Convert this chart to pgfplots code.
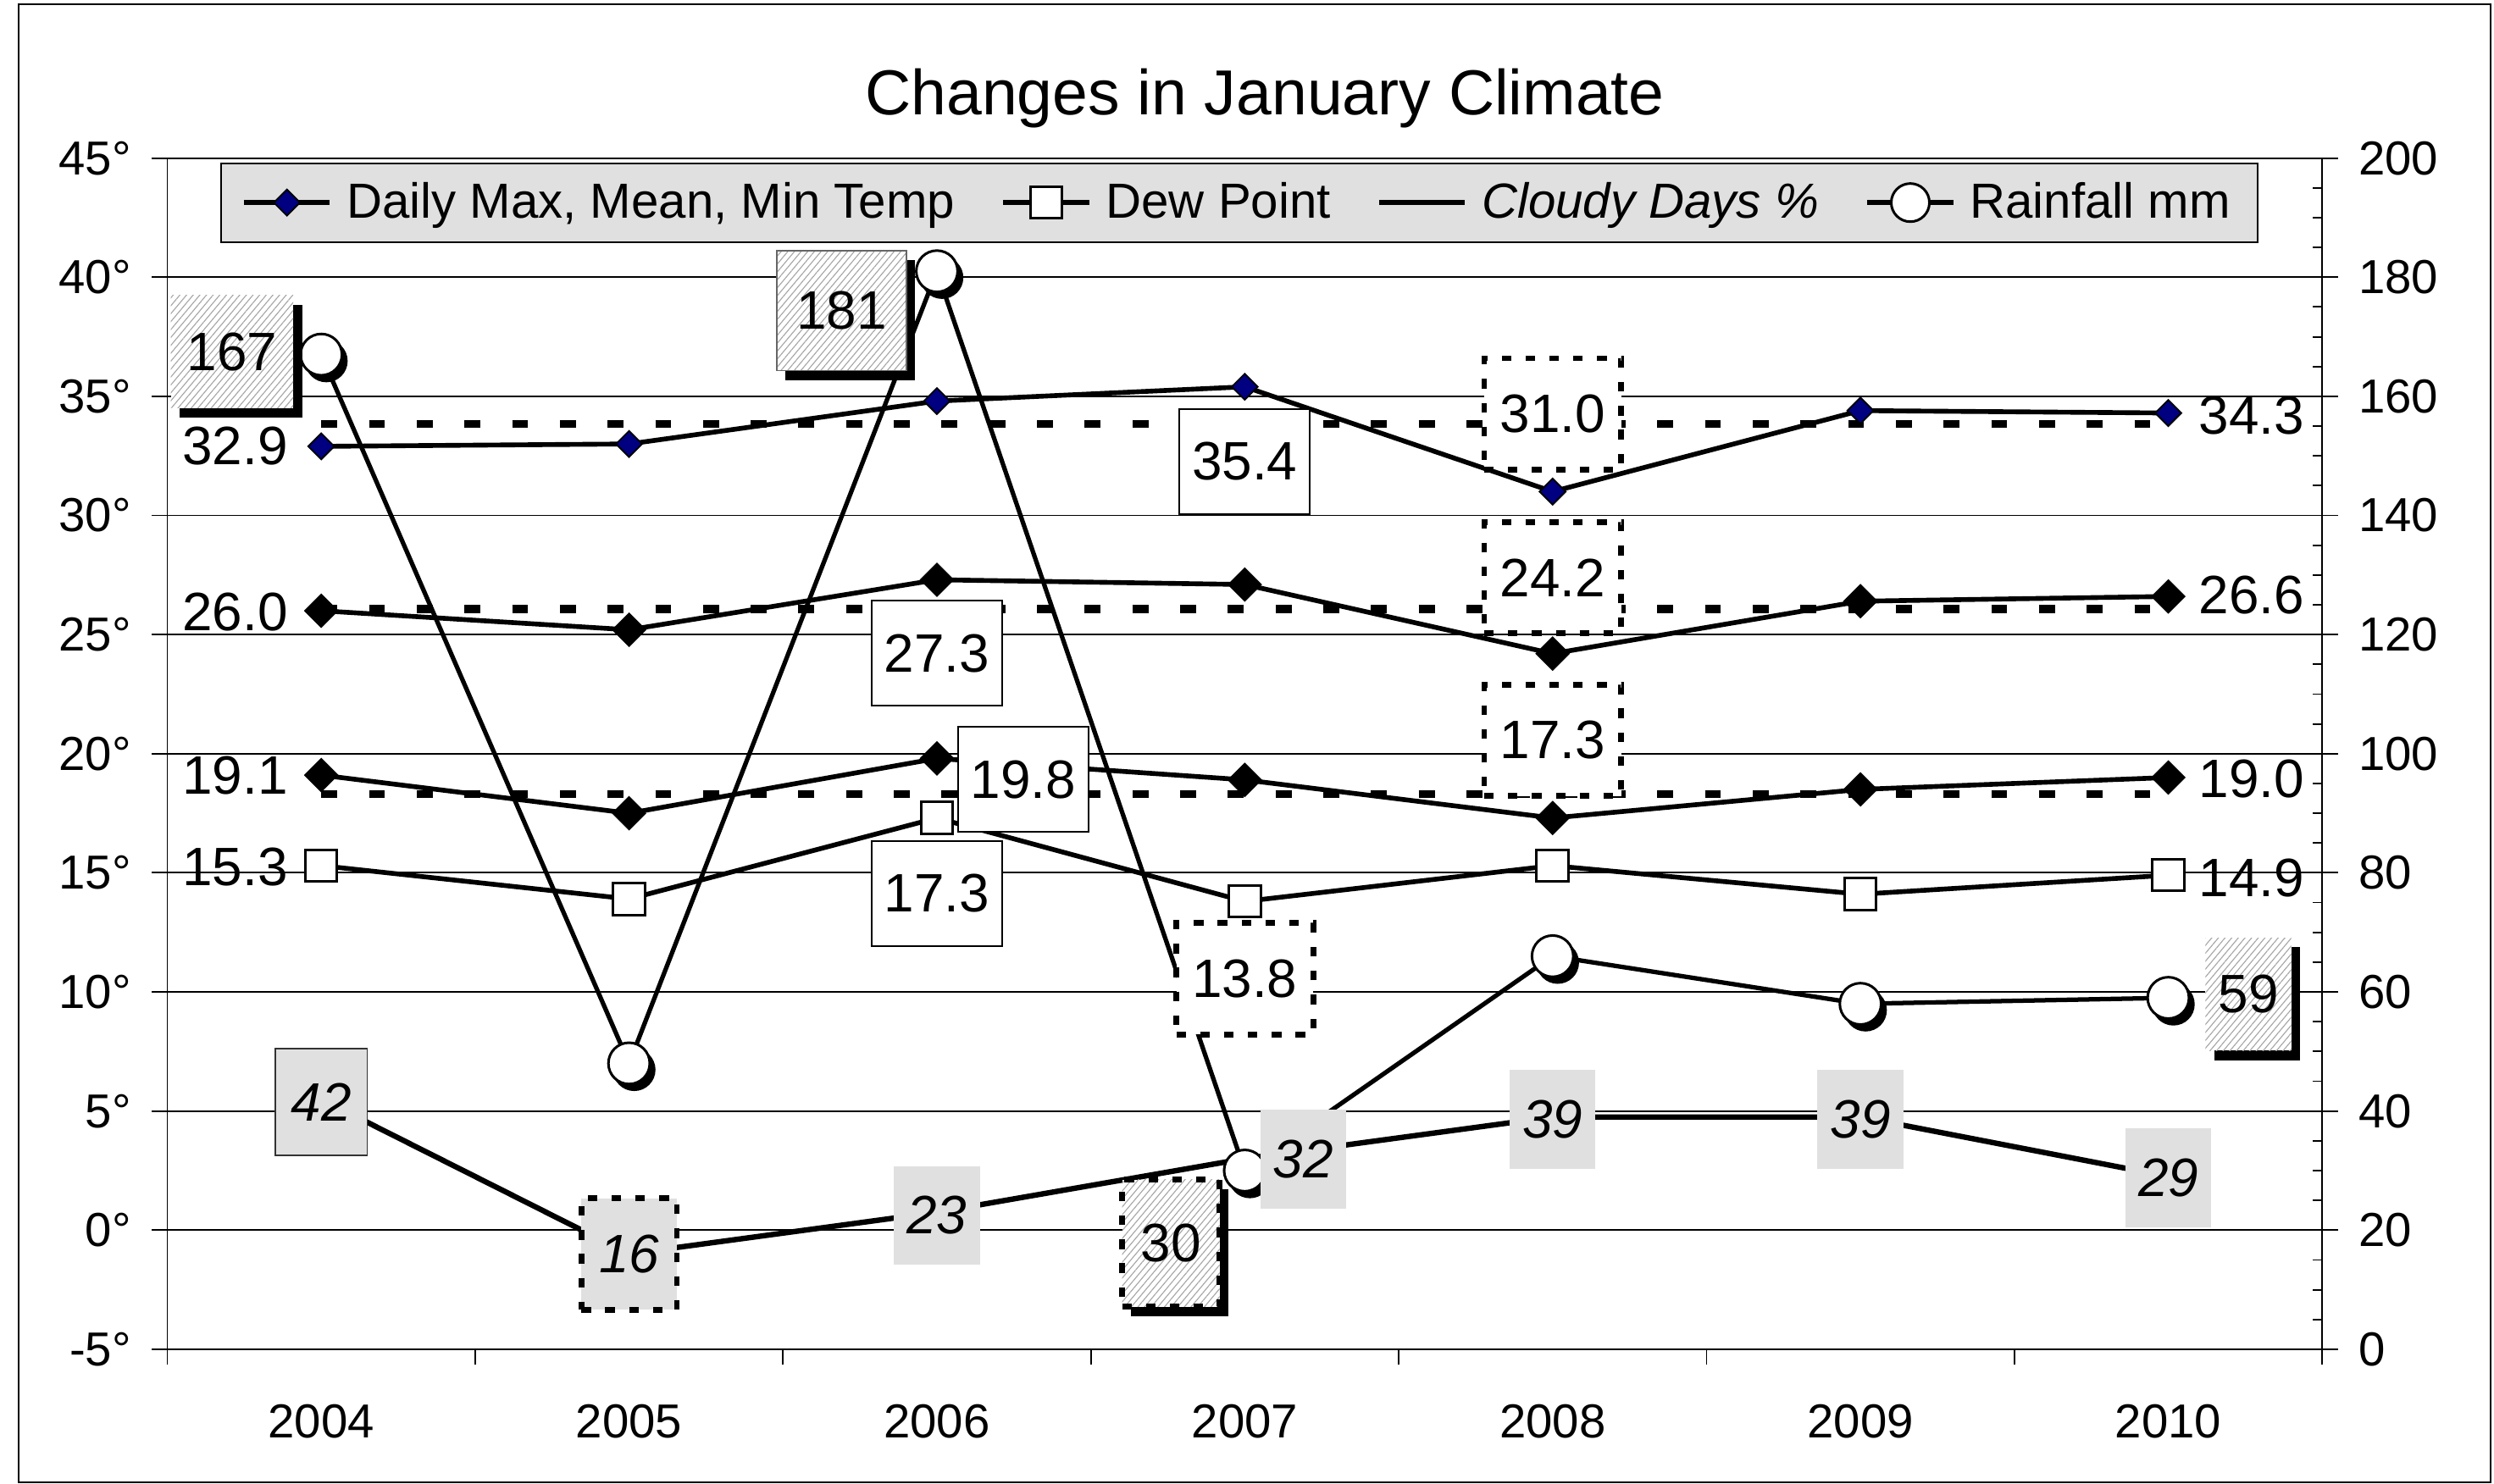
\documentclass[border=0pt]{standalone}
\usepackage{fontspec}
\setmainfont{Liberation Sans}
\usepackage{pgfplots}
\pgfplotsset{compat=1.18}
\usetikzlibrary{shadows,patterns.meta}
\definecolor{navy}{RGB}{0,0,128}
\definecolor{lgray}{RGB}{224,224,224}

\pgfplotsset{
  /pgf/number format/assume math mode=true,
  base/.style={
    scale only axis, width=677.4pt, height=374.5pt,
    xmin=2003.5, xmax=2010.5,
    at={(0pt,0pt)}, anchor=south west,
    axis line style={black, line width=0.5pt},
    every tick/.style={black, line width=0.5pt},
    tick label style={font=\fontsize{15}{18}\selectfont},
  },
}
\tikzset{
  lbl/.style={font=\fontsize{17}{20}\selectfont, inner sep=0pt, text=black},
  solidbox/.style={lbl, draw=black, line width=0.5pt, fill=white, minimum width=41pt, minimum height=33pt},
  dotbox/.style={lbl, draw=black, line width=1.8pt, dash pattern=on 3pt off 4.5pt, fill=white, minimum width=43pt, minimum height=35pt},
  graybox/.style={lbl, fill=lgray, minimum width=27pt, minimum height=31pt, font=\fontsize{17}{20}\selectfont\itshape},
  hatch/.style={drop shadow={shadow xshift=2.8pt, shadow yshift=-3pt, fill=black, opacity=1}, preaction={fill=white}, pattern={Lines[angle=50,distance=1.6pt,line width=0.3pt]}, pattern color=black!35},
  shbox/.style={lbl, hatch, minimum width=38.5pt, minimum height=35.5pt},
}

\begin{document}
\begin{tikzpicture}
\useasboundingbox (-52.6pt,-42.1pt) rectangle (731.4pt,424.2pt);
\draw[line width=0.6pt] (-46.8pt,-41.8pt) rectangle (730.3pt,422.9pt);
\node[anchor=base, font=\fontsize{20}{24}\selectfont] at (345pt,388.2pt) {Changes in January Climate};

% ---------- Axis 1: temperatures (left scale) ----------
\begin{axis}[base,
  ymin=-5, ymax=45, ytick={-5,0,...,45},
  axis y line*=left, axis x line*=bottom,
  xtick={2004,2005,2006,2007,2008,2009,2010},
  xticklabel style={/pgf/number format/1000 sep={}, yshift=-9pt},
  minor xtick={2003.5,2004.5,2005.5,2006.5,2007.5,2008.5,2009.5,2010.5},
  major x tick style={draw=none},
  tick align=outside, major tick length=4.9pt, minor tick length=4.9pt,
  yticklabel={\pgfmathprintnumber{\tick}°},
  yticklabel style={xshift=-3pt},
  ymajorgrids, major grid style={black, line width=0.5pt},
]
% averages (dashed)
\addplot[black, line width=2.5pt, dash pattern=on 5pt off 10pt] coordinates {(2004,33.85) (2005,33.85) (2006,33.85) (2007,33.85) (2008,33.85) (2009,33.85) (2010,33.85)};
\addplot[black, line width=2.5pt, dash pattern=on 5pt off 10pt] coordinates {(2004,26.07) (2005,26.07) (2006,26.07) (2007,26.07) (2008,26.07) (2009,26.07) (2010,26.07)};
\addplot[black, line width=2.5pt, dash pattern=on 5pt off 10pt] coordinates {(2004,18.31) (2005,18.31) (2006,18.31) (2007,18.31) (2008,18.31) (2009,18.31) (2010,18.31)};
% max
\addplot[black, line width=1.5pt, mark=square*, mark size=2.9pt, mark options={rotate=45, fill=navy, draw=black, line width=0.5pt, solid}] coordinates {(2004,32.9) (2005,33.0) (2006,34.8) (2007,35.4) (2008,31.0) (2009,34.4) (2010,34.3)};
% mean
\addplot[black, line width=1.5pt, mark=square*, mark size=3.1pt, mark options={rotate=45, fill=black, draw=black, solid}] coordinates {(2004,26.0) (2005,25.2) (2006,27.3) (2007,27.1) (2008,24.2) (2009,26.4) (2010,26.6)};
% min
\addplot[black, line width=1.5pt, mark=square*, mark size=3.1pt, mark options={rotate=45, fill=black, draw=black, solid}] coordinates {(2004,19.1) (2005,17.5) (2006,19.8) (2007,18.9) (2008,17.3) (2009,18.5) (2010,19.0)};
% dew point
\addplot[black, line width=1.5pt, mark=square*, mark size=5pt, mark options={fill=white, draw=black, line width=0.8pt, solid}] coordinates {(2004,15.3) (2005,13.9) (2006,17.3) (2007,13.8) (2008,15.3) (2009,14.1) (2010,14.9)};
\end{axis}

% ---------- Axis 2: cloudy days and rainfall (right scale) ----------
\begin{axis}[base,
  ymin=0, ymax=200, ytick={0,20,...,200}, minor y tick num=3,
  axis y line*=right, axis x line=none,
  tick align=outside, major tick length=4.9pt, minor tick length=3.1pt,
  minor y tick style={xshift=-3.1pt},
  yticklabel style={xshift=3pt},
]
\addplot[black, line width=1.7pt] coordinates {(2004,42) (2005,16) (2006,23) (2007,32) (2008,39) (2009,39) (2010,29)};
\addplot[only marks, mark=*, mark size=6.5pt, black, xshift=1.6pt, yshift=-2pt] coordinates {(2004,167) (2005,48) (2006,181) (2007,30) (2008,66) (2009,58) (2010,59)};
\addplot[black, line width=1.4pt, mark=*, mark size=6.5pt, mark options={fill=white, draw=black, line width=0.8pt}] coordinates {(2004,167) (2005,48) (2006,181) (2007,30) (2008,66) (2009,58) (2010,59)};
\end{axis}

% ---------- Axis 3: temperature labels ----------
\begin{axis}[base, ymin=-5, ymax=45, hide axis]
\node[lbl] at (axis cs:2003.72,32.9) {32.9};
\node[solidbox] at (axis cs:2007.00,32.26) {35.4};
\node[dotbox] at (axis cs:2008,34.26) {31.0};
\node[lbl] at (axis cs:2010.27,34.21) {34.3};
\node[lbl] at (axis cs:2003.72,25.96) {26.0};
\node[solidbox] at (axis cs:2006.00,24.22) {27.3};
\node[dotbox] at (axis cs:2008,27.39) {24.2};
\node[lbl] at (axis cs:2010.27,26.64) {26.6};
\node[lbl] at (axis cs:2003.72,19.07) {19.1};
\node[solidbox] at (axis cs:2006.28,18.92) {19.8};
\node[dotbox] at (axis cs:2008,20.56) {17.3};
\node[lbl] at (axis cs:2010.27,18.94) {19.0};
\node[lbl] at (axis cs:2003.72,15.23) {15.3};
\node[solidbox] at (axis cs:2006.00,14.13) {17.3};
\node[dotbox] at (axis cs:2007,10.55) {13.8};
\node[lbl] at (axis cs:2010.27,14.77) {14.9};
\end{axis}

% ---------- Axis 4: rainfall / cloudy labels and legend ----------
\begin{axis}[base, ymin=0, ymax=200, hide axis,
  legend columns=4,
  legend image code/.code={\draw[mark repeat=2,mark phase=2,#1] plot coordinates {(0pt,0pt) (13.5pt,0pt) (27pt,0pt)};},
  legend style={at={(0.0245,0.9963)}, anchor=north west, fill=lgray, draw=black, line width=0.5pt,
    font=\fontsize{15.5}{18}\selectfont, inner xsep=6.5pt, inner ysep=4pt,
    /tikz/every odd column/.append style={column sep=2.5pt},
    /tikz/every even column/.append style={column sep=12.5pt}},
]
\addlegendimage{black, line width=1.5pt, mark=square*, mark size=2.9pt, mark options={rotate=45, fill=navy, draw=black, line width=0.5pt}}
\addlegendentry{Daily Max, Mean, Min Temp}
\addlegendimage{black, line width=1.5pt, mark=square*, mark size=5pt, mark options={fill=white, draw=black, line width=0.8pt}}
\addlegendentry{Dew Point}
\addlegendimage{black, line width=1.5pt}
\addlegendentry{\textit{Cloudy Days \%}}
\addlegendimage{black, line width=1.5pt, mark=*, mark size=6pt, mark options={fill=white, draw=black, line width=0.8pt}}
\addlegendentry{Rainfall mm}
% rainfall labels
\node[shbox] at (axis cs:2003.71,167.5) {167};
\node[shbox, minimum width=40.7pt, minimum height=37.7pt, draw=black!60, line width=0.4pt] at (axis cs:2005.69,174.4) {181};
\node[shbox, minimum width=27pt, minimum height=35.5pt] at (axis cs:2010.26,59.6) {59};
\node[shbox, minimum width=30.6pt, minimum height=40pt, draw=black, line width=1.8pt, dash pattern=on 3pt off 4.5pt] at (axis cs:2006.76,17.8) {30};
% cloudy labels
\node[graybox, minimum width=29pt, minimum height=33.5pt, draw=black!80, line width=0.4pt] at (axis cs:2004,41.5) {42};
\node[graybox, minimum width=30pt, minimum height=35pt, draw=black, line width=1.8pt, dash pattern=on 3pt off 4.5pt] at (axis cs:2005,16) {16};
\node[graybox] at (axis cs:2006,22.5) {23};
\node[graybox] at (axis cs:2007.19,31.9) {32};
\node[graybox] at (axis cs:2008,38.6) {39};
\node[graybox] at (axis cs:2009,38.6) {39};
\node[graybox] at (axis cs:2010,28.8) {29};
\end{axis}
\end{tikzpicture}
\end{document}
